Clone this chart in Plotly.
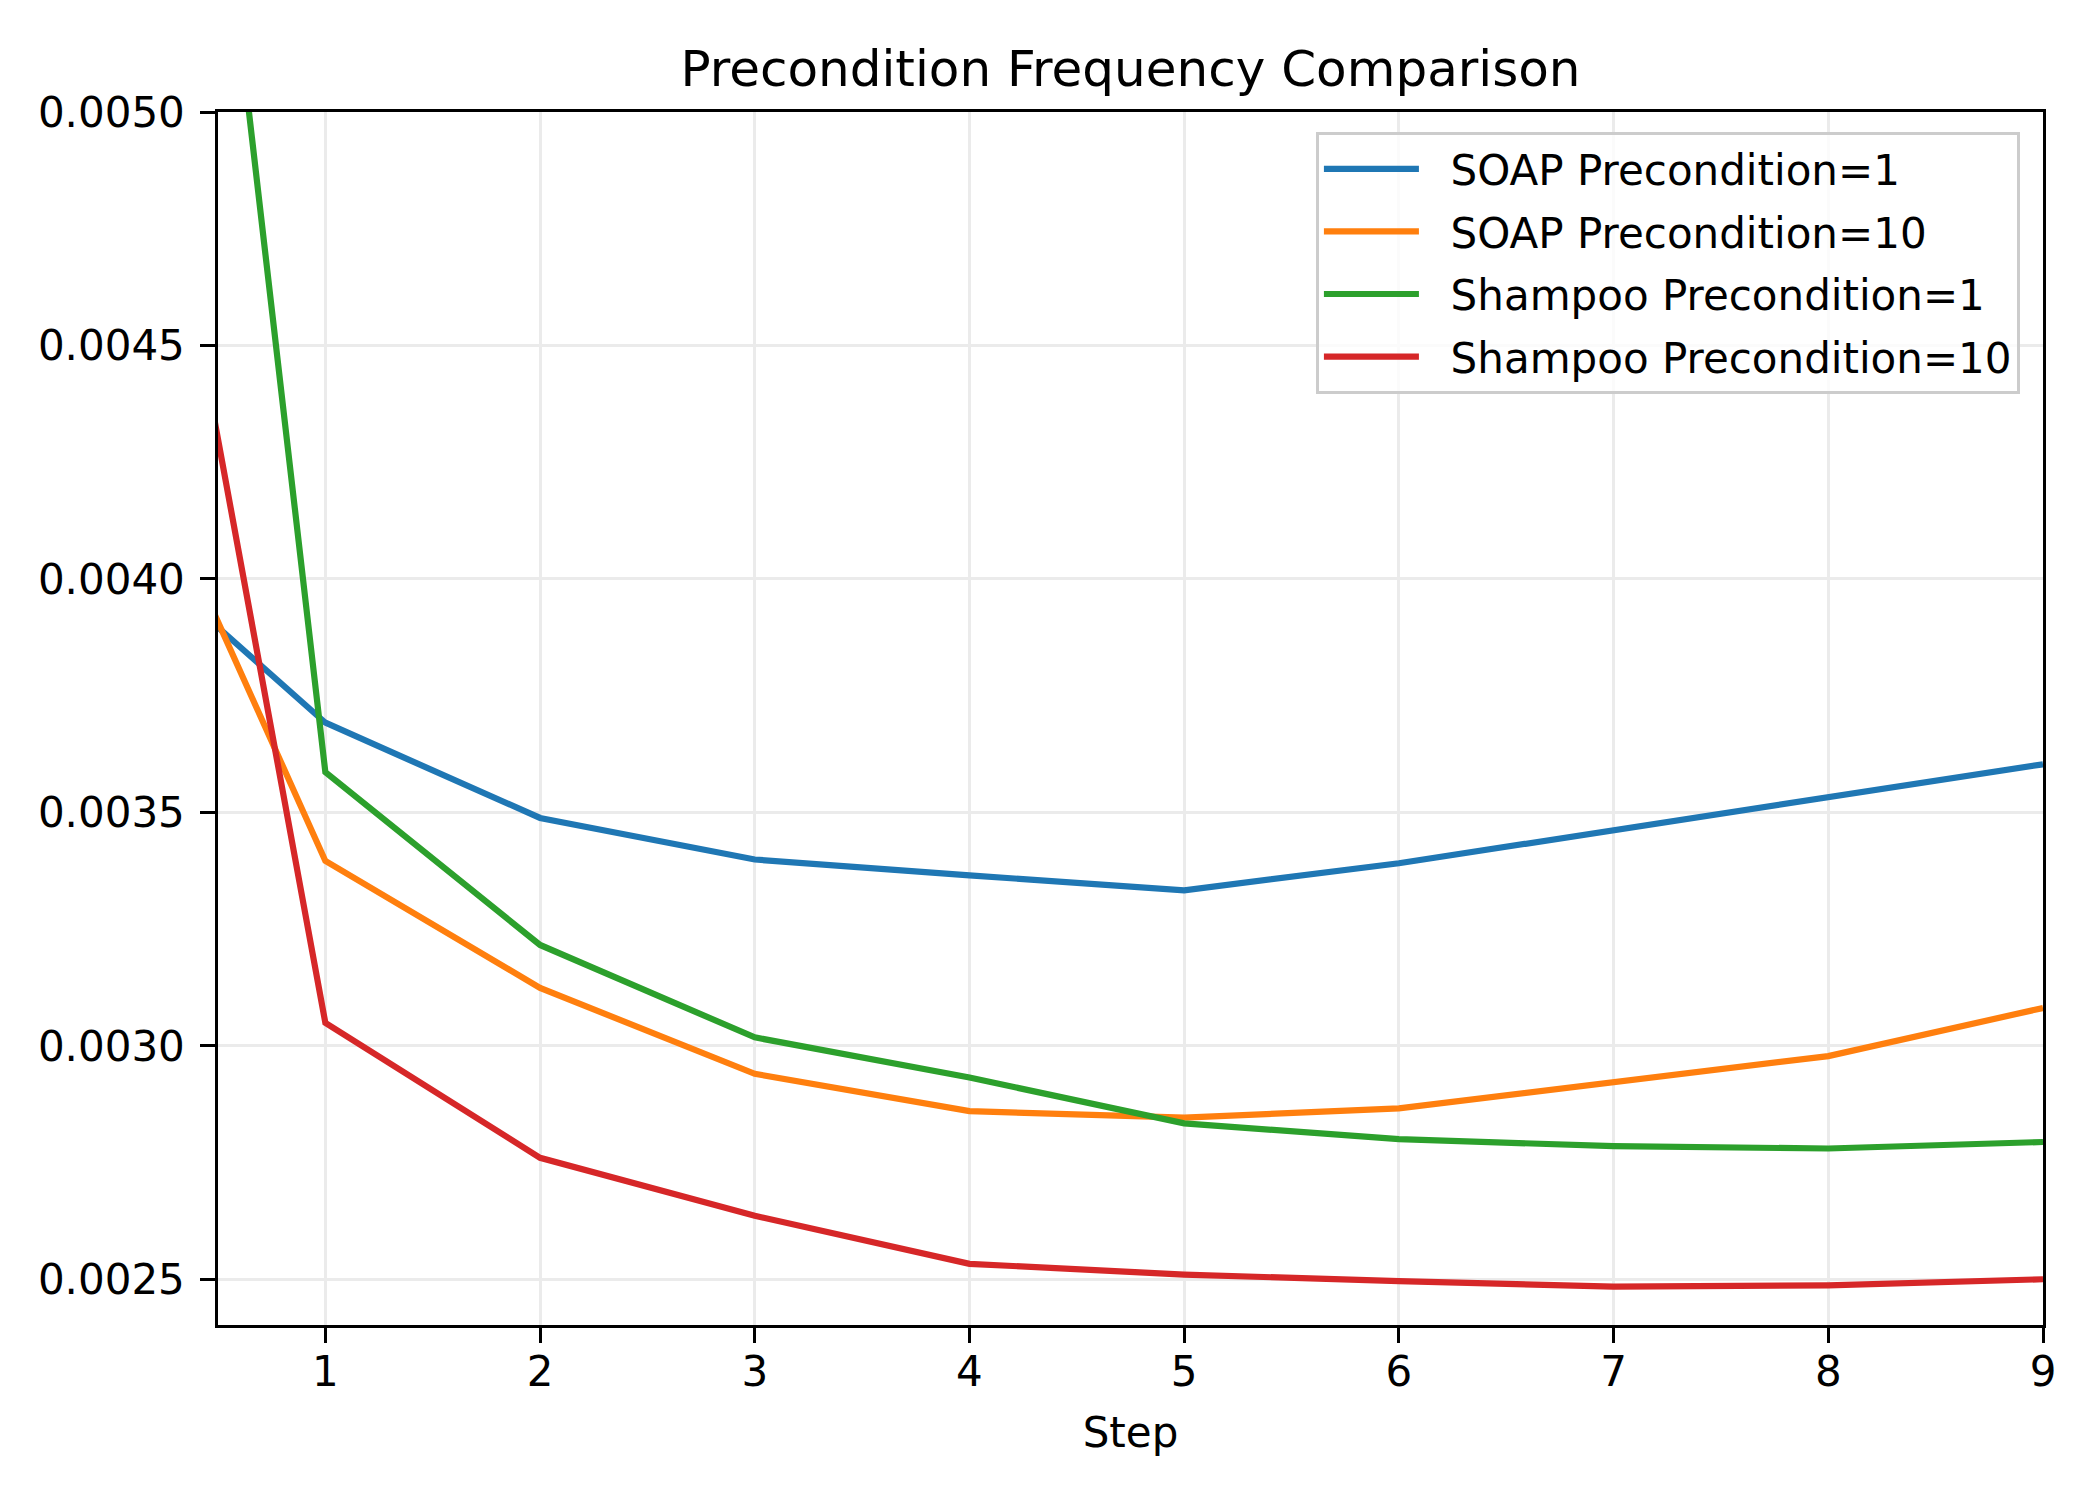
import plotly.graph_objects as go

steps = [0, 1, 2, 3, 4, 5, 6, 7, 8, 9]
soap_1 = [0.00410, 0.003692, 0.003488, 0.003399, 0.003365, 0.003333, 0.003391, 0.003462, 0.003534, 0.003603]
soap_10 = [0.00442, 0.003396, 0.003124, 0.002940, 0.002860, 0.002846, 0.002866, 0.002923, 0.002978, 0.003081]
shampoo_1 = [0.00756, 0.003586, 0.003216, 0.003018, 0.002932, 0.002834, 0.002800, 0.002785, 0.002780, 0.002794]
shampoo_10 = [0.00555, 0.003049, 0.002760, 0.002636, 0.002533, 0.002510, 0.002496, 0.002484, 0.002487, 0.002500]

series = [
    ("SOAP Precondition=1", soap_1, "#1f77b4"),
    ("SOAP Precondition=10", soap_10, "#ff7f0e"),
    ("Shampoo Precondition=1", shampoo_1, "#2ca02c"),
    ("Shampoo Precondition=10", shampoo_10, "#d62728"),
]

x_ticks = [1, 2, 3, 4, 5, 6, 7, 8, 9]
y_ticks = [0.0025, 0.0030, 0.0035, 0.0040, 0.0045, 0.0050]

fig = go.Figure()
for name, vals, color in series:
    fig.add_trace(go.Scatter(x=steps, y=vals, mode="lines", name="\u00a0\u00a0" + name,
                             legendgroup=name, line=dict(color=color, width=6.2)))

font = "DejaVu Sans"
fig.update_layout(
    width=2100, height=1500,
    paper_bgcolor="white", plot_bgcolor="white",
    margin=dict(l=210, r=65, t=104, b=183),
    font=dict(family=font, size=42, color="black"),
    title=dict(text="Precondition Frequency Comparison", x=0.5, xref="paper", xanchor="center",
               y=1 - 60 / 1500, yanchor="middle", font=dict(size=50, family=font)),
    legend=dict(x=0.6016, y=0.9835, xanchor="left", yanchor="top",
                bgcolor="rgba(255,255,255,0.8)", bordercolor="#cccccc", borderwidth=3,
                font=dict(size=42, family=font), tracegroupgap=5, itemwidth=95),
    showlegend=True,
)
fig.update_xaxes(
    range=[0.5, 9], tickvals=x_ticks, ticktext=[str(t) for t in x_ticks],
    showline=True, linecolor="black", linewidth=3.3, mirror=True,
    ticks="outside", ticklen=14.6, tickwidth=3.3, tickcolor="black", ticklabelstandoff=-7,
    showgrid=True, gridcolor="#ebebeb", gridwidth=3, zeroline=False,
    title=dict(text="Step", font=dict(size=42, family=font), standoff=23),
)
fig.update_yaxes(
    range=[0.002402, 0.005], tickvals=y_ticks, ticktext=[f"{v:.4f}" for v in y_ticks],
    showline=True, linecolor="black", linewidth=3.3, mirror=True,
    ticks="outside", ticklen=14.6, tickwidth=3.3, tickcolor="black", ticklabelstandoff=7,
    showgrid=True, gridcolor="#ebebeb", gridwidth=3, zeroline=False,
)

fig.write_html("out.html")
